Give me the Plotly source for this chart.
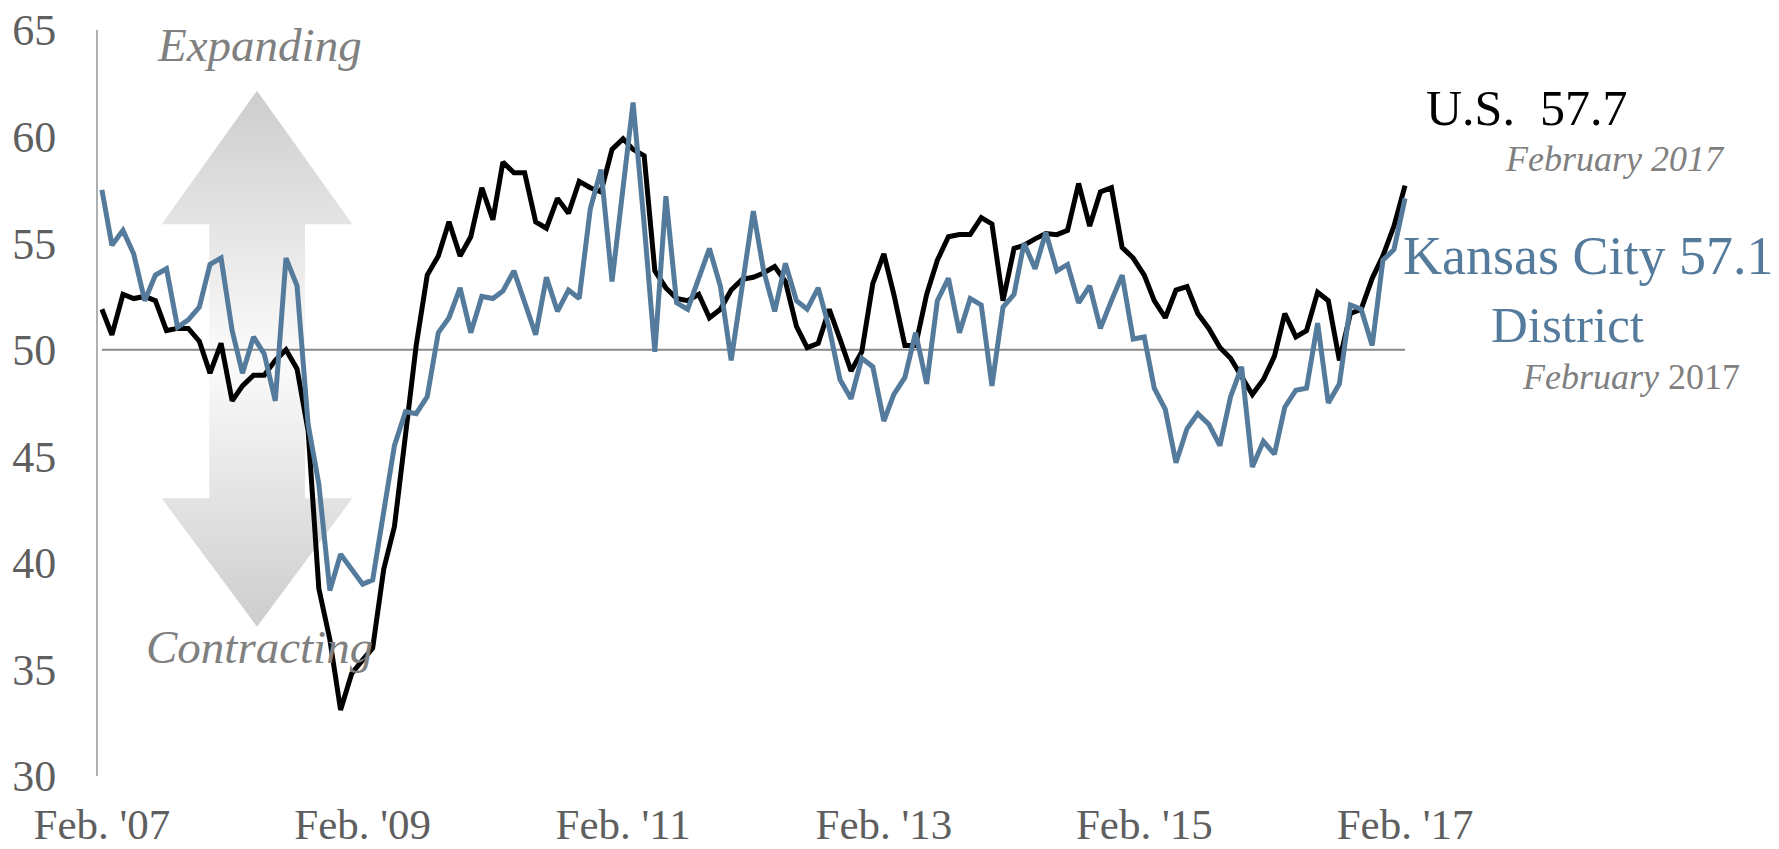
import base64
import pandas as pd
import plotly.graph_objects as go

# ---------------- data ----------------
start_month = "2007-02-01"
n_months = 121
months = pd.date_range(start_month, periods=n_months, freq="MS")

us_pmi = [51.9, 50.7, 52.6, 52.4, 52.5, 52.3, 50.9, 51.0, 51.0, 50.4, 48.9, 50.3,
          47.6, 48.3, 48.8, 48.8, 49.5, 50.0, 49.1, 46.2, 38.8, 36.4, 33.1, 34.8,
          35.45, 36.0, 39.7, 41.7, 46.0, 50.2, 53.5, 54.4, 56.0, 54.4, 55.3, 57.6,
          56.1, 58.8, 58.3, 58.3, 56.0, 55.7, 57.1, 56.4, 57.9, 57.6, 57.4, 59.4,
          59.9, 59.4, 59.1, 53.7, 52.9, 52.4, 52.3, 52.6, 51.5, 51.9, 52.8, 53.3,
          53.4, 53.6, 53.9, 53.2, 51.1, 50.1, 50.3, 51.9, 50.5, 49.0, 49.9, 53.1,
          54.5, 52.6, 50.2, 50.2, 52.6, 54.2, 55.3, 55.4, 55.4, 56.2, 55.9, 52.3,
          54.75, 54.9, 55.2, 55.45, 55.4, 55.6, 57.8, 55.8, 57.4, 57.6, 54.8, 54.3,
          53.5, 52.3, 51.5, 52.8, 52.96, 51.7, 51.0, 50.1, 49.6, 48.75, 47.9, 48.6,
          49.7, 51.7, 50.6, 50.9, 52.7, 52.3, 49.5, 51.7, 51.9, 53.35, 54.4, 55.8,
          57.7]

kc_pmi = [57.5, 54.9, 55.6, 54.5, 52.3, 53.5, 53.8, 51.05, 51.4, 52.0, 54.0, 54.3,
          50.9, 48.9, 50.6, 49.8, 47.6, 54.3, 53.0, 46.5, 43.7, 38.7, 40.4, 39.7,
          39.0, 39.2, 42.3, 45.5, 47.1, 47.0, 47.8, 50.8, 51.5, 52.9, 50.8, 52.5,
          52.4, 52.75, 53.7, 52.2, 50.7, 53.4, 51.8, 52.8, 52.4, 56.6, 58.45, 53.2,
          57.8, 61.6, 55.9, 49.9, 57.2, 52.2, 51.9, 53.3, 54.75, 52.96, 49.5, 53.0,
          56.5, 53.7, 51.8, 54.05, 52.3, 51.9, 52.9, 51.0, 48.6, 47.7, 49.6, 49.2,
          46.65, 47.9, 48.7, 50.8, 48.4, 52.3, 53.35, 50.8, 52.4, 52.1, 48.3, 52.0,
          52.6, 55.0, 53.8, 55.5, 53.7, 54.0, 52.2, 53.0, 51.0, 52.3, 53.5, 50.5,
          50.6, 48.2, 47.2, 44.7, 46.3, 47.0, 46.5, 45.5, 47.8, 49.2, 44.5, 45.7,
          45.1, 47.3, 48.1, 48.2, 51.25, 47.5, 48.4, 52.1, 51.9, 50.2, 54.2, 54.7,
          57.1]

tick_dates = ["2007-02-01", "2009-02-01", "2011-02-01", "2013-02-01", "2015-02-01", "2017-02-01"]
tick_labels = ["Feb. '07", "Feb. '09", "Feb. '11", "Feb. '13", "Feb. '15", "Feb. '17"]
y_ticks = [30, 35, 40, 45, 50, 55, 60, 65]
threshold = 50

# ---------------- styling ----------------
W, H = 1779, 849
ML, MR, MT, MB = 98, 359, 30, 73
PW, PH = W - ML - MR, H - MT - MB
FONT = "Liberation Serif, Times New Roman, serif"
BLUE = "#557b9c"
GRAY_TXT = "#808080"
TICK_TXT = "#5f5f5f"


def pxx(x):
    return (x - ML) / PW


def pxy(y):
    return (H - MB - y) / PH


fig = go.Figure()

fig.add_trace(go.Scatter(x=months, y=us_pmi, mode="lines", name="U.S.",
                         line=dict(color="#000000", width=5), hoverinfo="skip"))
fig.add_trace(go.Scatter(x=months, y=kc_pmi, mode="lines", name="Kansas City",
                         line=dict(color=BLUE, width=5), hoverinfo="skip"))

# threshold line at 50
fig.add_shape(type="line", xref="x", yref="y", x0=months[0], x1=months[-1],
              y0=threshold, y1=threshold, line=dict(color="#888888", width=2),
              layer="below")

# double-headed gradient arrow (decoration)
aw, ah = 190.6, 536.0
svg = f'''<svg xmlns="http://www.w3.org/2000/svg" width="{aw}" height="{ah}" viewBox="0 0 {aw} {ah}" preserveAspectRatio="none">
<defs><linearGradient id="g" x1="0" y1="0" x2="0" y2="1">
<stop offset="0" stop-color="#cdcdcd"/>
<stop offset="0.5" stop-color="#fbfbfb"/>
<stop offset="1" stop-color="#cdcdcd"/>
</linearGradient></defs>
<path d="M95.3,0 L190.6,133.6 L143.3,133.6 L143.3,407.6 L190.6,407.6 L95.3,536 L0,407.6 L47.6,407.6 L47.6,133.6 L0,133.6 Z" fill="url(#g)"/>
</svg>'''
src = "data:image/svg+xml;base64," + base64.b64encode(svg.encode()).decode()
fig.add_layout_image(dict(source=src, xref="paper", yref="paper",
                          x=pxx(161.7), y=pxy(90.7), sizex=aw / PW, sizey=ah / PH,
                          xanchor="left", yanchor="top", sizing="stretch", layer="below"))

ann = []
ann.append(dict(text="<i>Expanding</i>", x=pxx(259), y=pxy(45), xanchor="center", yanchor="middle",
                font=dict(size=47, color=GRAY_TXT, family=FONT)))
ann.append(dict(text="<i>Contracting</i>", x=pxx(259), y=pxy(647), xanchor="center", yanchor="middle",
                font=dict(size=47, color=GRAY_TXT, family=FONT)))
ann.append(dict(text="U.S.\u00a0\u00a057.7", x=pxx(1424), y=pxy(108), xanchor="left", yanchor="middle",
                font=dict(size=50, color="#000000", family=FONT)))
ann.append(dict(text="<i>February 2017</i>", x=pxx(1503), y=pxy(159), xanchor="left", yanchor="middle",
                font=dict(size=36, color=GRAY_TXT, family=FONT)))
ann.append(dict(text="Kansas City 57.1", x=pxx(1401), y=pxy(256), xanchor="left", yanchor="middle",
                font=dict(size=54, color=BLUE, family=FONT)))
ann.append(dict(text="District", x=pxx(1489), y=pxy(325), xanchor="left", yanchor="middle",
                font=dict(size=51, color=BLUE, family=FONT)))
ann.append(dict(text="<i>February</i> 2017", x=pxx(1520), y=pxy(377), xanchor="left", yanchor="middle",
                font=dict(size=36, color=GRAY_TXT, family=FONT)))
for a in ann:
    a.update(xref="paper", yref="paper", showarrow=False)

fig.update_layout(
    width=W, height=H,
    margin=dict(l=ML, r=MR, t=MT, b=MB, pad=0, autoexpand=False),
    paper_bgcolor="white", plot_bgcolor="rgba(0,0,0,0)",
    showlegend=False,
    annotations=ann,
    font=dict(family=FONT),
)
fig.update_xaxes(type="date", range=["2007-01-21", "2017-03-15"],
                 tickvals=tick_dates, ticktext=tick_labels, automargin=False,
                 showgrid=False, zeroline=False, showline=False, ticks="",
                 tickfont=dict(size=43, color=TICK_TXT, family=FONT),
                 ticklabelstandoff=19)
fig.update_yaxes(range=[30, 65], tickvals=y_ticks, showgrid=False, zeroline=False,
                 automargin=False,
                 showline=True, linecolor="#b0b0b0", linewidth=2, ticks="",
                 tickfont=dict(size=44, color=TICK_TXT, family=FONT),
                 ticklabelstandoff=31)

fig.write_html("out.html", config={"displayModeBar": False},
               post_script="document.body.style.margin='0';document.body.style.overflow='hidden';")
